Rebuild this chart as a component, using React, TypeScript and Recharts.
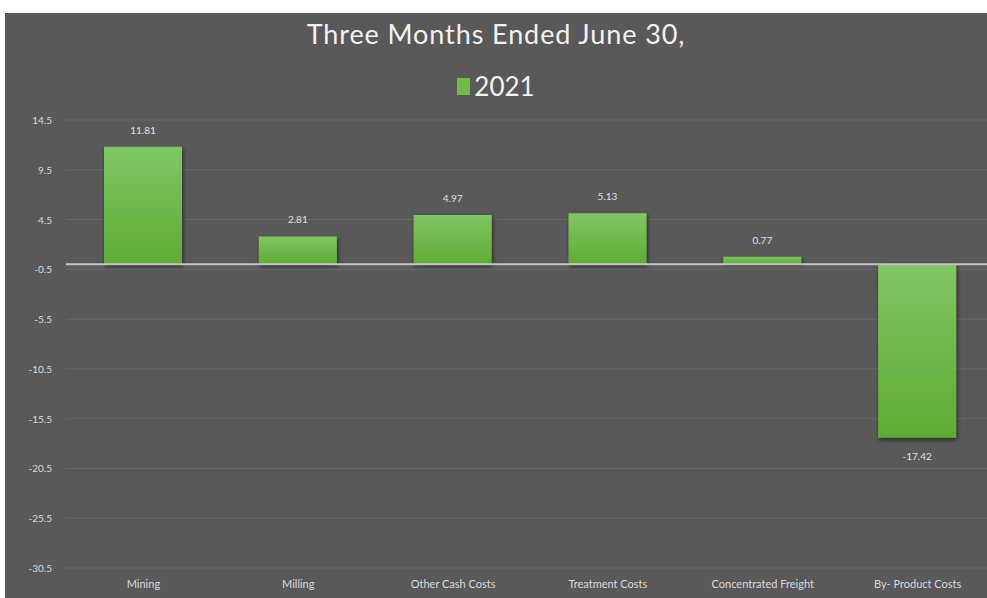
import { BarChart, Bar, XAxis, YAxis, CartesianGrid, ReferenceLine, LabelList } from "recharts";

const CATEGORIES = ["Mining", "Milling", "Other Cash Costs", "Treatment Costs", "Concentrated Freight", "By- Product Costs"];
const VALUES_2021 = [11.81, 2.81, 4.97, 5.13, 0.77, -17.42];
const Y_TICKS = [-30.5, -25.5, -20.5, -15.5, -10.5, -5.5, -0.5, 4.5, 9.5, 14.5];

const data = CATEGORIES.map((name, i) => ({ name, v2021: VALUES_2021[i] }));

const BG = "#595959";
const FONT = "Lato, 'Open Sans', sans-serif";

function ValueLabel(props: any) {
  const { x, y, width, height, value } = props;
  const top = Math.min(y, y + height);
  const bottom = Math.max(y, y + height);
  const cx = x + width / 2;
  const ty = value >= 0 ? top - 13 : bottom + 22;
  return (
    <text x={cx} y={ty} textAnchor="middle" fill="#e0e0e0" fontSize={10} fontFamily={FONT}>
      {value.toFixed(2)}
    </text>
  );
}

function YTick(props: any) {
  const { y, payload } = props;
  // right edge of labels sits a little left of the plot area
  return (
    <text x={47} y={y} dy={4} textAnchor="end" fill="#d9d9d9" fontSize={10} fontFamily={FONT}>
      {payload.value}
    </text>
  );
}

export default function App() {
  return (
    <div style={{ position: "absolute", left: 0, top: 0, width: 987, height: 598, background: "#fff", overflow: "hidden" }}>
      <div style={{ position: "absolute", left: 5, top: 13, width: 982, height: 585, background: BG, overflow: "hidden" }}>
        <div
          style={{
            position: "absolute", left: 0, right: 0, top: 4, textAlign: "center",
            color: "#f2f2f2", fontFamily: FONT, fontSize: 27, letterSpacing: 0.9,
          }}
        >
          Three Months Ended June 30,
        </div>
        <div
          style={{
            position: "absolute", left: 0, right: 0, top: 57, display: "flex", justifyContent: "center",
            alignItems: "center", color: "#f2f2f2", fontFamily: FONT, fontSize: 26,
          }}
        >
          <span style={{ display: "inline-block", width: 13, height: 17, background: "#6fbb45", marginRight: 4 }} />
          <span>2021</span>
        </div>
        <BarChart
          width={990}
          height={585}
          data={data}
          margin={{ top: 107, right: 0, bottom: 0, left: 0 }}
        >
          <defs>
            <linearGradient id="barGrad" x1="0" y1="0" x2="0" y2="1">
              <stop offset="0%" stopColor="#80c663" />
              <stop offset="100%" stopColor="#5eac33" />
            </linearGradient>
            <filter id="barShadow" x="-20%" y="-20%" width="140%" height="140%">
              <feDropShadow dx="1" dy="2" stdDeviation="2" floodColor="#000" floodOpacity="0.55" />
            </filter>
          </defs>
          <CartesianGrid horizontal vertical={false} stroke="#696969" strokeWidth={1} />
          <XAxis
            dataKey="name"
            height={30}
            axisLine={false}
            tickLine={false}
            interval={0}
            tick={{ fontSize: 11, fill: "#d9d9d9", fontFamily: FONT }}
            tickMargin={6}
          />
          <YAxis
            type="number"
            domain={[-30.5, 14.5]}
            ticks={Y_TICKS}
            width={61}
            axisLine={false}
            tickLine={false}
            interval={0}
            tick={<YTick />}
          />
          <Bar
            dataKey="v2021"
            barSize={78}
            fill="url(#barGrad)"
            filter="url(#barShadow)"
            isAnimationActive={false}
          >
            <LabelList dataKey="v2021" content={<ValueLabel />} />
          </Bar>
          <ReferenceLine y={0} stroke="#c4c4c4" strokeWidth={2} />
        </BarChart>
      </div>
    </div>
  );
}
